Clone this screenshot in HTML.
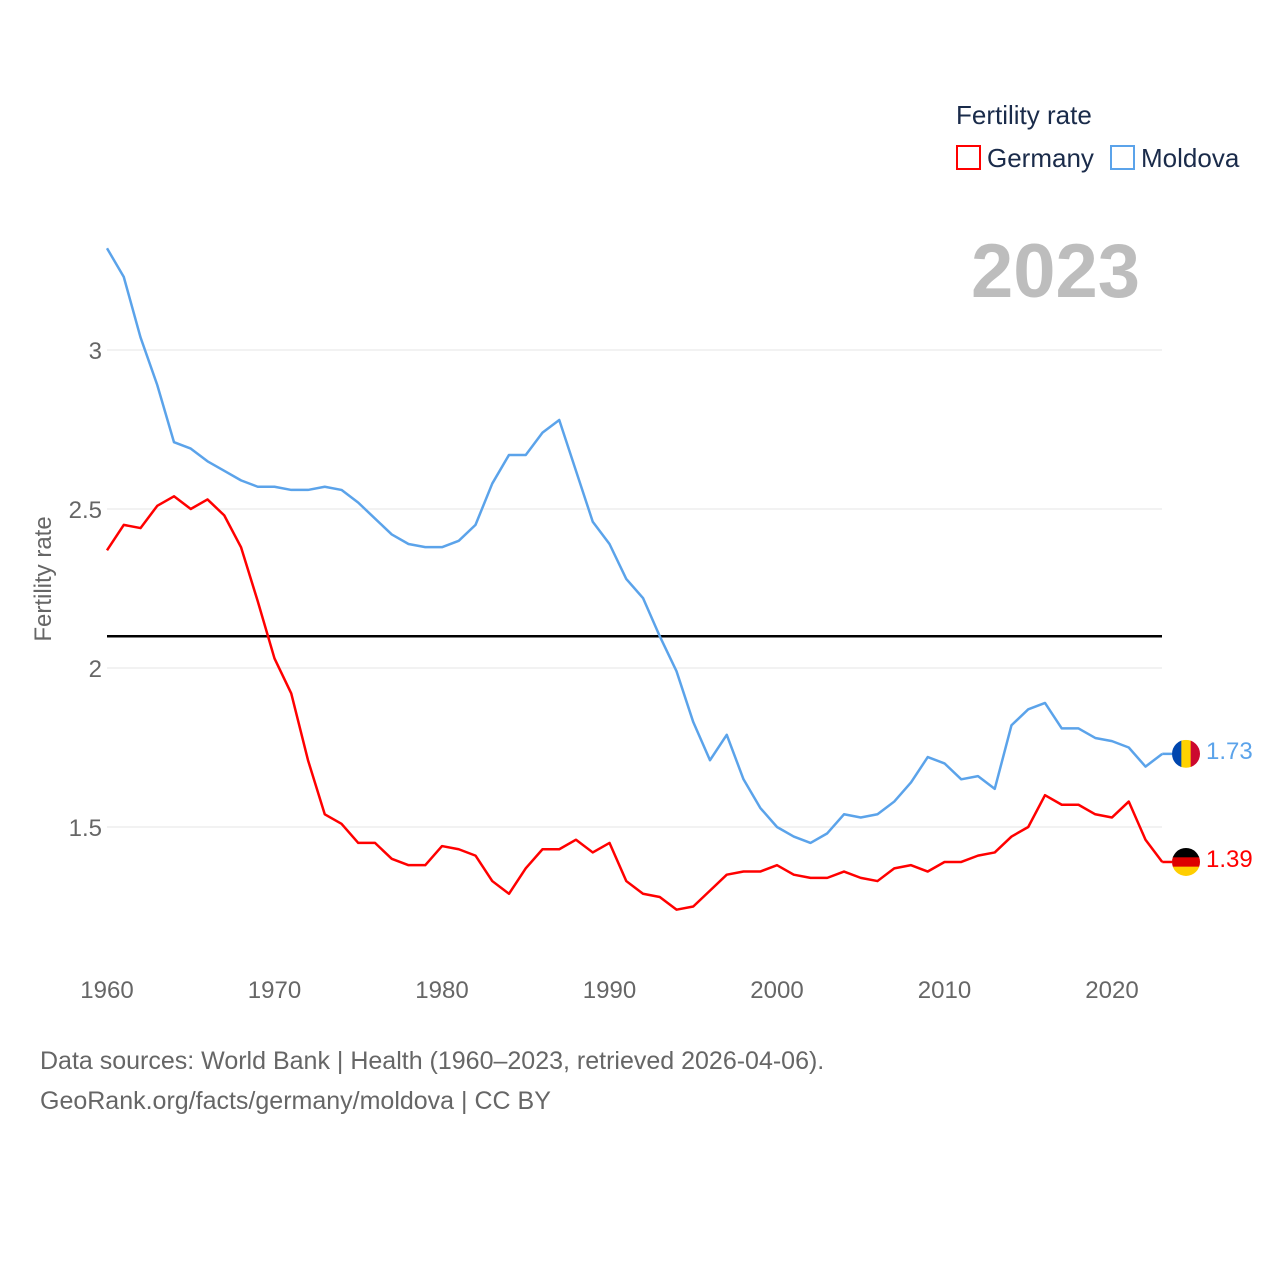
<!DOCTYPE html>
<html><head><meta charset="utf-8">
<style>
body{margin:0;background:#fff;font-family:"Liberation Sans",sans-serif;}
#wrap{position:relative;width:1280px;height:1280px;overflow:hidden;}
.t{position:absolute;white-space:nowrap;}
</style></head>
<body>
<div id="wrap">
<div class="t" style="left:956px;top:100px;font-size:26px;color:#1a2b4a;">Fertility rate</div>
<div class="t" style="left:956px;top:143px;font-size:26px;color:#1a2b4a;"><span style="display:inline-block;width:21px;height:21px;border:2px solid #f00;vertical-align:-3px;margin-right:6px;"></span>Germany</div>
<div class="t" style="left:1110px;top:143px;font-size:26px;color:#1a2b4a;"><span style="display:inline-block;width:21px;height:21px;border:2px solid #5ba3ea;vertical-align:-3px;margin-right:6px;"></span>Moldova</div>
<div class="t" style="left:971px;top:228px;font-size:76px;font-weight:bold;color:#bdbdbd;">2023</div>
<div class="t" style="left:40px;top:1041px;font-size:25px;color:#666;line-height:40px;">Data sources: World Bank | Health (1960–2023, retrieved 2026-04-06).<br>GeoRank.org/facts/germany/moldova | CC BY</div>
<svg id="svg" width="1280" height="1280" style="position:absolute;left:0;top:0;"></svg>
</div>
<script>
const years=[];for(let y=1960;y<=2023;y++)years.push(y);
const moldova=[3.32,3.23,3.04,2.89,2.71,2.69,2.65,2.62,2.59,2.57,2.57,2.56,2.56,2.57,2.56,2.52,2.47,2.42,2.39,2.38,2.38,2.40,2.45,2.58,2.67,2.67,2.74,2.78,2.62,2.46,2.39,2.28,2.22,2.10,1.99,1.83,1.71,1.79,1.65,1.56,1.50,1.47,1.45,1.48,1.54,1.53,1.54,1.58,1.64,1.72,1.70,1.65,1.66,1.62,1.82,1.87,1.89,1.81,1.81,1.78,1.77,1.75,1.69,1.73];
const germany=[2.37,2.45,2.44,2.51,2.54,2.50,2.53,2.48,2.38,2.21,2.03,1.92,1.71,1.54,1.51,1.45,1.45,1.40,1.38,1.38,1.44,1.43,1.41,1.33,1.29,1.37,1.43,1.43,1.46,1.42,1.45,1.33,1.29,1.28,1.24,1.25,1.30,1.35,1.36,1.36,1.38,1.35,1.34,1.34,1.36,1.34,1.33,1.37,1.38,1.36,1.39,1.39,1.41,1.42,1.47,1.50,1.60,1.57,1.57,1.54,1.53,1.58,1.46,1.39];
const yTicks=[1.5,2,2.5,3];
const xTicks=[1960,1970,1980,1990,2000,2010,2020];
const refLine=2.1;
const X=y=>107+(y-1960)*16.75;
const Y=v=>668-(v-2)*318;
const svg=document.getElementById('svg');
const NS='http://www.w3.org/2000/svg';
function mk(tag,attrs){const e=document.createElementNS(NS,tag);for(const k in attrs)e.setAttribute(k,attrs[k]);svg.appendChild(e);return e;}
yTicks.forEach(v=>{
 const g=mk('line',{x1:107,x2:1162,y1:Y(v),y2:Y(v),stroke:'#e6e6e6','stroke-width':1});
 
 
 const t=mk('text',{x:102,y:Y(v)+9,'text-anchor':'end','font-size':24,fill:'#666','font-family':'Liberation Sans, sans-serif'});
 t.textContent=String(v);
 
 
});
xTicks.forEach(v=>{
 const t=mk('text',{x:X(v),y:998,'text-anchor':'middle','font-size':24,fill:'#666','font-family':'Liberation Sans, sans-serif'});
 t.textContent=String(v);
 
 
});
const yt=mk('text',{x:0,y:0,transform:'translate(51,579) rotate(-90)','text-anchor':'middle','font-size':24,fill:'#666','font-family':'Liberation Sans, sans-serif'});
yt.textContent='Fertility rate';


const rl=mk('line',{x1:107,x2:1162,y1:Y(refLine),y2:Y(refLine),stroke:'#000','stroke-width':2.5});


function series(vals,color,name){
 const p=mk('polyline',{points:vals.map((v,i)=>X(years[i])+','+Y(v)).join(' '),fill:'none',stroke:color,'stroke-width':2.5,'stroke-linejoin':'round'});
 
 
 const last=vals[vals.length-1];
 const lx=X(years[years.length-1]);
 mk('line',{x1:lx,x2:1172,y1:Y(last),y2:Y(last),stroke:color,'stroke-width':2.5});
 const t=mk('text',{x:1206,y:Y(last)+5,'font-size':24,fill:color,'font-family':'Liberation Sans, sans-serif'});
 t.textContent=last.toFixed(2);
 
 
 return Y(last);
}
const ym=series(moldova,'#5ba3ea','moldova-line');
const yg=series(germany,'#f00','germany-line');
const defs=mk('defs',{});
function clip(id,cy){const c=document.createElementNS(NS,'clipPath');c.setAttribute('id',id);const ci=document.createElementNS(NS,'circle');ci.setAttribute('cx',1186);ci.setAttribute('cy',cy);ci.setAttribute('r',14);c.appendChild(ci);defs.appendChild(c);}
clip('cm',ym);clip('cg',yg);
const fm=mk('g',{'clip-path':'url(#cm)'});


[['#0046ae',0],['#ffd200',1],['#cc092f',2]].forEach(([c,i])=>{const r=document.createElementNS(NS,'rect');r.setAttribute('x',1172+i*28/3);r.setAttribute('y',ym-14);r.setAttribute('width',28/3+0.5);r.setAttribute('height',28);r.setAttribute('fill',c);fm.appendChild(r);});
const fg=mk('g',{'clip-path':'url(#cg)'});


[['#000',0],['#dd0000',1],['#ffce00',2]].forEach(([c,i])=>{const r=document.createElementNS(NS,'rect');r.setAttribute('x',1172);r.setAttribute('y',yg-14+i*28/3);r.setAttribute('width',28);r.setAttribute('height',28/3+0.5);r.setAttribute('fill',c);fg.appendChild(r);});
</script>
</body></html>
